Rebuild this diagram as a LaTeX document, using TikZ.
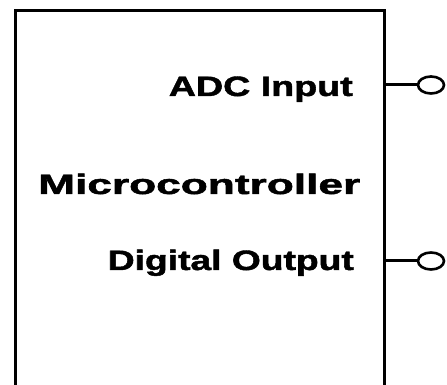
\documentclass[tikz,border=0pt]{standalone}
\usepackage{fontspec}
\setmainfont{Liberation Sans}
\newfontfamily\heavyfont{Liberation Sans Bold}[FakeBold=1.5]
\usetikzlibrary{shapes.geometric}
\tikzset{
  lbl/.style={inner sep=0pt, font=\heavyfont\fontsize{28}{32}\selectfont},
  pinline/.style={line width=3pt},
  pincirc/.style={draw, ellipse, line width=2.6pt, minimum width=26pt, minimum height=17pt, inner sep=0pt, fill=white},
  chip/.style={draw, line width=3pt, rectangle, inner sep=0pt}
}
\begin{document}
\begin{tikzpicture}[x=1pt,y=1pt]
\useasboundingbox (0,0) rectangle (447,385);
\clip (0,0) rectangle (447,385);
\fill[white] (0,0) rectangle (447,385);
\node[chip, minimum width=369pt, minimum height=389pt] (box) at (199.5,179.5) {};
\node[lbl, anchor=base east] (adc) at (353,289) {\resizebox{184pt}{\height}{ADC Input}};
\node[lbl, anchor=base west] (mcu) at (38,191) {\resizebox{322pt}{\height}{Microcontroller}};
\node[lbl, anchor=base east] (dout) at (354,115) {\resizebox{246pt}{\height}{Digital Output}};
\node[pincirc] (p1) at (431,300) {};
\node[pincirc] (p2) at (431,124) {};
\draw[pinline] (box.east |- p1) -- (p1.west);
\draw[pinline] (box.east |- p2) -- (p2.west);
\end{tikzpicture}
\end{document}
